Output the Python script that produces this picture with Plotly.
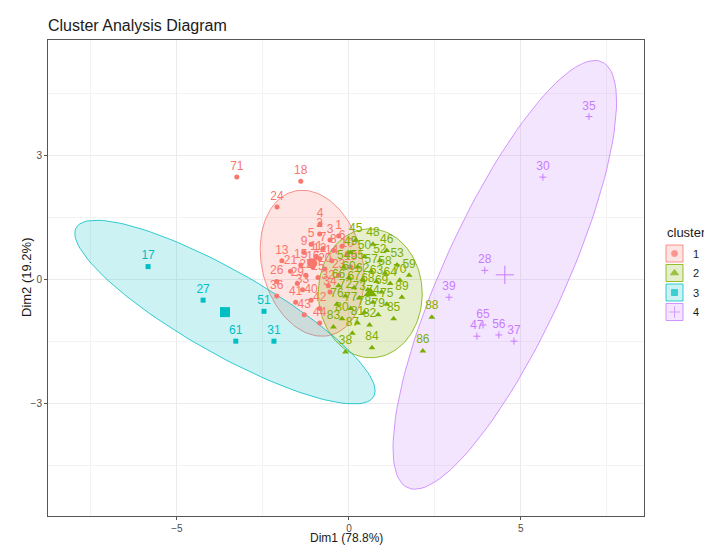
import numpy as np
import plotly.graph_objects as go

# ---------------- data ----------------
c1_labels = [71, 18, 24, 4, 1, 2, 3, 5, 6, 7, 8, 9, 10, 11, 12, 13, 14, 15, 16, 19, 20, 21,
             22, 23, 25, 26, 29, 32, 33, 34, 36, 40, 41, 42, 43, 44]
c1_x = [-3.26, -1.40, -2.09, -0.84, -0.30, -0.85, -0.55, -1.10, -0.20, -0.75, -0.45, -1.30,
        -0.05, -0.95, -0.85, -1.95, -0.50, -1.40, -1.05, 0.05, -0.70, -1.70, -1.25, -0.30,
        -0.90, -2.10, -1.50, -0.60, -1.35, -0.55, -2.10, -1.10, -1.55, -0.85, -1.30, -0.85]
c1_y = [2.47, 2.37, 1.75, 1.34, 1.05, 1.10, 0.95, 0.85, 0.80, 0.75, 0.70, 0.65, 0.60, 0.55,
        0.50, 0.45, 0.45, 0.35, 0.30, 0.30, 0.25, 0.20, 0.10, 0.10, 0.05, -0.05, -0.10,
        -0.15, -0.25, -0.30, -0.40, -0.50, -0.55, -0.70, -0.85, -1.05]

c2_labels = [46, 70, 89, 84, 38, 88, 86, 45, 48, 49, 50, 52, 53, 54, 55, 57, 58, 59, 60, 62,
             63, 64, 66, 67, 68, 69, 72, 73, 74, 75, 76, 77, 78, 79, 80, 81, 82, 83, 85, 87]
c2_x = [1.10, 1.48, 1.54, 0.67, -0.10, 2.41, 2.15, 0.20, 0.70, 0.05, 0.45, 0.90, 1.40, -0.15,
        0.25, 0.65, 1.05, 1.75, 0.00, 0.40, 0.80, 1.20, -0.30, 0.15, 0.55, 0.95, -0.10, 0.30,
        0.70, 1.10, -0.35, 0.05, 0.45, 0.85, -0.20, 0.25, 0.60, -0.45, 1.30, 0.10]
c2_y = [0.70, -0.02, -0.43, -1.65, -1.75, -0.91, -1.73, 0.95, 0.85, 0.65, 0.55, 0.45, 0.35,
        0.30, 0.30, 0.20, 0.15, 0.10, 0.05, 0.00, -0.05, -0.10, -0.15, -0.20, -0.25, -0.30,
        -0.40, -0.45, -0.55, -0.60, -0.60, -0.70, -0.80, -0.85, -0.95, -1.05, -1.10, -1.15,
        -0.95, -1.30]

c3_labels = [17, 27, 51, 61, 31]
c3_x = [-5.84, -4.24, -2.47, -3.29, -2.18]
c3_y = [0.31, -0.50, -0.77, -1.49, -1.49]

c4_labels = [35, 30, 28, 39, 65, 47, 56, 37]
c4_x = [6.98, 5.64, 3.95, 2.91, 3.90, 3.72, 4.36, 4.80]
c4_y = [3.93, 2.47, 0.22, -0.43, -1.10, -1.37, -1.34, -1.49]

cluster_names = ["1", "2", "3", "4"]
x_ticks = [-5, 0, 5]
y_ticks = [-3, 0, 3]
ELLIPSE_LEVEL = 0.9

# ---------------- style ----------------
COLORS = ["#F8766D", "#7CAE00", "#00BFC4", "#C77CFF"]
FILLS = ["rgba(248,118,109,0.2)", "rgba(124,174,0,0.2)", "rgba(0,191,196,0.2)",
         "rgba(199,124,255,0.2)"]
SYMBOLS = ["circle", "triangle-up", "square", "cross-thin"]
PT_SIZES = [5, 6, 5, 5]
CENTER_SIZES = [10, 12, 10, 13]
FONT = "Liberation Sans, Arial, sans-serif"
TXT = "#1a1a1a"
PANEL_TOP, PANEL_BOTTOM = 40, 516


def qf2(p, d):
    # quantile of the F(2, d) distribution (closed form)
    return d / 2.0 * ((1.0 - p) ** (-2.0 / d) - 1.0)


def ellipse_path(xs, ys, level, n=121):
    xs = np.asarray(xs, float)
    ys = np.asarray(ys, float)
    cov = np.cov(xs, ys)
    L = np.linalg.cholesky(cov)
    r = np.sqrt(2.0 * qf2(level, len(xs) - 1))
    t = np.linspace(0, 2 * np.pi, n)
    pts = L @ np.vstack([np.cos(t), np.sin(t)]) * r
    return xs.mean() + pts[0], ys.mean() + pts[1]


clusters = [(c1_labels, c1_x, c1_y), (c2_labels, c2_x, c2_y),
            (c3_labels, c3_x, c3_y), (c4_labels, c4_x, c4_y)]

fig = go.Figure()

# ellipses
for i, (lab, xs, ys) in enumerate(clusters):
    ex, ey = ellipse_path(xs, ys, ELLIPSE_LEVEL)
    fig.add_trace(go.Scatter(x=ex, y=ey, mode="lines", fill="toself",
                             fillcolor=FILLS[i],
                             line=dict(color=COLORS[i], width=0.8),
                             showlegend=False, hoverinfo="skip"))

# points + labels
for i, (lab, xs, ys) in enumerate(clusters):
    fig.add_trace(go.Scatter(
        x=xs, y=ys, mode="markers+text", text=[str(v) for v in lab],
        textposition="top center",
        textfont=dict(family=FONT, size=12, color=COLORS[i]),
        marker=dict(symbol=SYMBOLS[i], size=PT_SIZES[i], color=COLORS[i],
                    line=dict(color=COLORS[i], width=1 if i == 3 else 0)),
        showlegend=False, name=cluster_names[i]))

# cluster centres
for i, (lab, xs, ys) in enumerate(clusters):
    fig.add_trace(go.Scatter(
        x=[float(np.mean(xs))], y=[float(np.mean(ys))], mode="markers",
        marker=dict(symbol=SYMBOLS[i], size=CENTER_SIZES[i], color=COLORS[i],
                    line=dict(color=COLORS[i], width=1 if i == 3 else 0)),
        showlegend=False, hoverinfo="skip"))

# ---------------- manual ggplot-like legend (overlay axis in pixel units) ----
key_x = 674.5
key_y = [253.5, 273.0, 292.5, 312.0]
fig.add_trace(go.Scatter(
    x=[key_x] * 4, y=key_y, mode="markers", xaxis="x2", yaxis="y2",
    marker=dict(symbol=SYMBOLS, size=[6, 7, 6, 8], color=COLORS,
                line=dict(color=COLORS, width=1)),
    showlegend=False, hoverinfo="skip"))
shapes = []
annotations = []
for i in range(4):
    shapes.append(dict(type="rect", xref="x2", yref="y2", x0=key_x - 8.5, x1=key_x + 8.5,
                       y0=key_y[i] - 8.5, y1=key_y[i] + 8.5, fillcolor=FILLS[i],
                       line=dict(color=COLORS[i], width=0.8), layer="below"))
    annotations.append(dict(xref="x2", yref="y2", x=691, y=key_y[i], text=cluster_names[i],
                            showarrow=False, xanchor="left", yanchor="middle",
                            font=dict(family=FONT, size=11, color=TXT)))
annotations.append(dict(xref="x2", yref="y2", x=665, y=232, text="cluster", showarrow=False,
                        xanchor="left", yanchor="middle",
                        font=dict(family=FONT, size=13, color=TXT)))

# axis titles
annotations.append(dict(xref="x domain", yref="paper", x=0.5, y=0, yanchor="top",
                        yshift=-14, borderpad=0, text="Dim1 (78.8%)", showarrow=False,
                        font=dict(family=FONT, size=12, color=TXT)))
annotations.append(dict(xref="paper", yref="y domain", x=0, y=0.5, xanchor="center",
                        xshift=-22, textangle=-90, text="Dim2 (19.2%)", showarrow=False,
                        font=dict(family=FONT, size=13, color=TXT)))

axis_common = dict(showline=True, mirror=True, linecolor="#555555", linewidth=1,
                   showgrid=True, gridcolor="#EBEBEB", gridwidth=1, zeroline=False,
                   ticks="outside", ticklen=3, tickcolor="#555555", tickwidth=1,
                   tickfont=dict(family=FONT, size=10, color="#4D4D4D"))

fig.update_layout(
    width=704, height=546,
    margin=dict(l=48, r=0, t=PANEL_TOP, b=546 - PANEL_BOTTOM),
    paper_bgcolor="white", plot_bgcolor="white",
    title=dict(text="Cluster Analysis Diagram", x=48 / 704, xanchor="left",
               y=1 - 25 / 546, yanchor="middle", xref="container", yref="container",
               font=dict(family=FONT, size=16, color=TXT)),
    xaxis=dict(domain=[0, 596 / 656], range=[-8.75, 8.58], tickvals=x_ticks,
               minor=dict(showgrid=True, gridcolor="#F3F3F3", gridwidth=0.6,
                          tick0=2.5, dtick=5, ticks=""),
               **axis_common),
    yaxis=dict(range=[-5.71, 5.78], tickvals=y_ticks,
               minor=dict(showgrid=True, gridcolor="#F3F3F3", gridwidth=0.6,
                          tick0=1.5, dtick=3, ticks=""),
               **axis_common),
    xaxis2=dict(domain=[607 / 656, 1], range=[655, 704], visible=False, anchor="y2",
                fixedrange=True),
    yaxis2=dict(domain=[0, 1], range=[PANEL_BOTTOM, PANEL_TOP], visible=False,
                anchor="x2", fixedrange=True),
    shapes=shapes,
    annotations=annotations,
    showlegend=False,
)

fig.write_html("out.html")
